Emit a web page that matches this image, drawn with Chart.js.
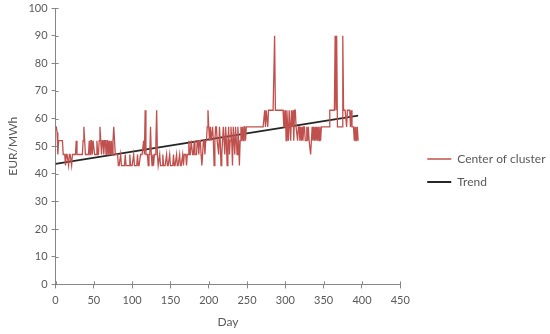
<!DOCTYPE html>
<html>
<head>
<meta charset="utf-8">
<script src="https://cdn.jsdelivr.net/npm/chart.js@4.4.1/dist/chart.umd.min.js"></script>
<style>
  html, body { margin: 0; padding: 0; background: #fff; }
  #wrap { width: 550px; height: 334px; }
</style>
</head>
<body>
<div id="wrap"><canvas id="chart"></canvas></div>
<script>
// Center of cluster, EUR/MWh, one value per day starting at day 0
const clusterValues = [
  57, 57, 55, 47, 52, 52, 52, 52, 52, 52,
  47, 47, 47, 43, 47, 47, 47, 43, 47, 47,
  47, 43, 47, 47, 47, 47, 47, 52, 47, 47,
  47, 47, 47, 47, 47, 47, 52, 57, 52, 47,
  47, 47, 47, 47, 52, 47, 52, 52, 47, 52,
  52, 47, 47, 47, 52, 47, 47, 52, 57, 52,
  47, 52, 52, 47, 52, 52, 47, 52, 52, 47,
  52, 47, 47, 52, 47, 52, 57, 52, 47, 47,
  47, 47, 43, 43, 43, 47, 43, 43, 43, 43,
  43, 47, 43, 43, 43, 43, 43, 47, 43, 43,
  43, 43, 47, 43, 43, 43, 43, 47, 43, 43,
  43, 47, 47, 47, 47, 52, 47, 63, 47, 47,
  47, 43, 47, 47, 57, 47, 43, 47, 43, 47,
  47, 52, 63, 47, 43, 43, 47, 43, 43, 43,
  47, 43, 43, 43, 43, 47, 43, 43, 43, 47,
  43, 43, 43, 43, 47, 43, 43, 43, 47, 43,
  43, 43, 47, 43, 43, 43, 47, 43, 47, 47,
  47, 43, 47, 47, 52, 47, 47, 52, 52, 47,
  47, 52, 47, 47, 47, 52, 52, 47, 52, 52,
  47, 43, 47, 52, 52, 47, 52, 52, 57, 63,
  57, 52, 57, 52, 52, 57, 52, 43, 52, 57,
  57, 52, 52, 47, 57, 52, 43, 47, 52, 57,
  52, 47, 57, 52, 43, 52, 57, 47, 52, 57,
  52, 43, 57, 52, 47, 57, 52, 47, 57, 52,
  43, 52, 57, 52, 57, 52, 57, 57, 52, 57,
  57, 57, 57, 57, 57, 57, 57, 57, 57, 57,
  57, 57, 57, 57, 57, 57, 57, 57, 57, 57,
  57, 57, 57, 63, 57, 63, 63, 57, 63, 63,
  63, 63, 63, 63, 63, 63, 90, 63, 63, 63,
  63, 63, 63, 63, 63, 63, 63, 63, 57, 57,
  63, 52, 63, 57, 52, 63, 63, 52, 63, 57,
  63, 52, 63, 63, 57, 57, 52, 57, 57, 52,
  57, 52, 57, 52, 57, 57, 52, 52, 57, 52,
  57, 52, 52, 47, 52, 57, 52, 57, 52, 57,
  52, 57, 52, 57, 52, 57, 52, 57, 57, 57,
  57, 57, 57, 57, 57, 57, 57, 57, 63, 63,
  63, 63, 63, 63, 63, 90, 63, 90, 57, 57,
  57, 57, 57, 57, 57, 90, 63, 63, 63, 63,
  57, 63, 63, 63, 63, 57, 63, 57, 57, 57,
  52, 57, 52, 52, 57, 52, 52
];

// linear trend, start and end
const trendDays = [0, 395];
const trendValues = [43.6, 61.1];

const xTicks = [0, 50, 100, 150, 200, 250, 300, 350, 400, 450];
const yTicks = [0, 10, 20, 30, 40, 50, 60, 70, 80, 90, 100];

const textColor = '#595959';
const axisColor = '#868686';
const fontFamily = 'Lato, "Open Sans", sans-serif';

var clusterPoints = clusterValues.map(function (v, i) {
  return { x: i, y: v };
});
var trendPoints = trendDays.map(function (d, i) {
  return { x: d, y: trendValues[i] };
});

// legend sits further right (and a bit lower) than chart.js would put it
var legendShift = 16;
var legendDrop = 4;
var legendNudge = {
  id: 'legendNudge',
  afterLayout: function (chart) {
    chart.legend.left += legendShift;
    chart.legend.right += legendShift;
    chart.legend.top += legendDrop;
    chart.legend.bottom += legendDrop;
  },
};

// short tick marks inside the axes too (excel "cross" ticks)
var crossTicks = {
  id: 'crossTicks',
  afterDraw: function (chart) {
    var c = chart.ctx;
    var a = chart.chartArea;
    c.save();
    c.strokeStyle = axisColor;
    c.lineWidth = 1;
    c.beginPath();
    chart.scales.x.ticks.forEach(function (t) {
      var px = Math.round(chart.scales.x.getPixelForValue(t.value)) + 0.5;
      c.moveTo(px, a.bottom);
      c.lineTo(px, a.bottom - 3);
    });
    chart.scales.y.ticks.forEach(function (t) {
      var py = Math.round(chart.scales.y.getPixelForValue(t.value)) + 0.5;
      c.moveTo(a.left, py);
      c.lineTo(a.left + 3, py);
    });
    c.stroke();
    c.restore();
  },
};

var ctx = document.getElementById('chart').getContext('2d');
var chart = new Chart(ctx, {
  type: 'line',
  data: {
    datasets: [
      {
        label: 'Center of cluster',
        data: clusterPoints,
        borderColor: '#c0504d',
        backgroundColor: '#c0504d',
        borderWidth: 1.3,
        pointRadius: 0,
        tension: 0,
      },
      {
        label: 'Trend',
        data: trendPoints,
        borderColor: '#262626',
        backgroundColor: '#262626',
        borderWidth: 1.8,
        pointRadius: 0,
        tension: 0,
      },
    ],
  },
  options: {
    responsive: true,
    maintainAspectRatio: false,
    animation: false,
    layout: { padding: { left: 2, right: 17, top: 0, bottom: 1 } },
    plugins: {
      tooltip: { enabled: false },
      legend: {
        position: 'right',
        labels: {
          usePointStyle: true,
          pointStyle: 'line',
          pointStyleWidth: 24,
          color: textColor,
          font: { family: fontFamily, size: 12 },
          padding: 11,
        },
      },
    },
    scales: {
      x: {
        type: 'linear',
        min: 0,
        max: 450,
        afterBuildTicks: function (axis) {
          axis.ticks = xTicks.map(function (v) { return { value: v }; });
        },
        grid: { drawOnChartArea: false, color: axisColor, tickLength: 4 },
        border: { color: axisColor },
        ticks: { color: textColor, font: { family: fontFamily, size: 11 }, maxRotation: 0, padding: 5 },
        title: { display: true, text: 'Day', color: textColor, font: { family: fontFamily, size: 12 }, padding: { top: 3 } },
      },
      y: {
        min: 0,
        max: 100,
        afterBuildTicks: function (axis) {
          axis.ticks = yTicks.map(function (v) { return { value: v }; });
        },
        afterFit: function (scale) {
          scale.paddingTop = 8;
        },
        grid: { drawOnChartArea: false, color: axisColor, tickLength: 4 },
        border: { color: axisColor },
        ticks: { color: textColor, font: { family: fontFamily, size: 11 }, padding: 4 },
        title: { display: true, text: 'EUR/MWh', color: textColor, font: { family: fontFamily, size: 12 } },
      },
    },
  },
  plugins: [legendNudge, crossTicks],
});
</script>
</body>
</html>
